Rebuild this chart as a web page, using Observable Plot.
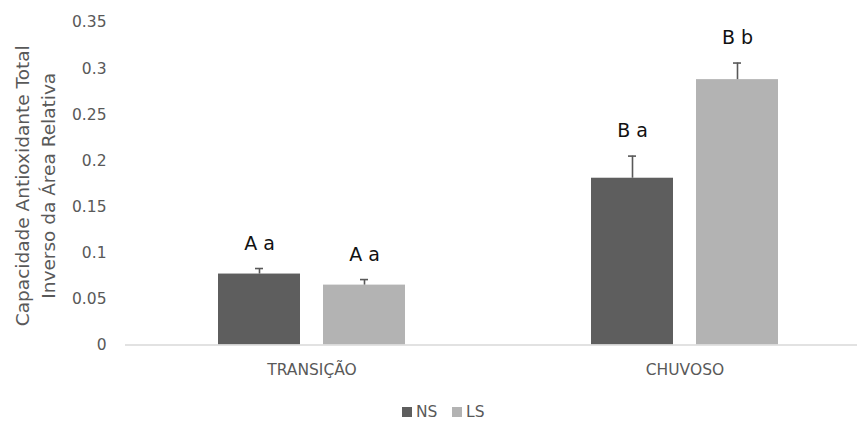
<!DOCTYPE html>
<html>
<head>
<meta charset="utf-8">
<script src="https://cdn.jsdelivr.net/npm/d3@7"></script>
<script src="https://cdn.jsdelivr.net/npm/@observablehq/plot@0.6"></script>
<style>
  html, body { margin: 0; padding: 0; background: #fff; }
  body { width: 857px; height: 424px; overflow: hidden; font-family: "DejaVu Sans", sans-serif; }
  #legend { position: relative; height: 24px; width: 857px; }
  .item { position: absolute; top: 0; display: flex; align-items: center; height: 24px; font-size: 15.5px; color: #595959; }
  .sw { width: 10px; height: 10px; margin-right: 4px; }
</style>
</head>
<body>
<div id="chart"></div>
<div id="legend"></div>
<script>
// ---- data ----
const groups = ["TRANSIÇÃO", "CHUVOSO"];
const series = ["NS", "LS"];
const nsMeans = [0.077, 0.181];
const lsMeans = [0.065, 0.288];
const nsErrors = [0.006, 0.024];
const lsErrors = [0.006, 0.018];
const nsLetters = ["A a", "B a"];
const lsLetters = ["A a", "B b"];
const yTicks = [0, 0.05, 0.1, 0.15, 0.2, 0.25, 0.3, 0.35];
const yTitle = "Capacidade Antioxidante Total\nInverso da Área Relativa";
const seriesColors = ["#5e5e5e", "#b3b3b3"];

const rows = groups.flatMap((g, i) => [
  {group: g, series: "NS", mean: nsMeans[i], err: nsErrors[i], letter: nsLetters[i]},
  {group: g, series: "LS", mean: lsMeans[i], err: lsErrors[i], letter: lsLetters[i]}
]);
const upper = d => d.mean + d.err;

const chart = Plot.plot({
  width: 857,
  height: 400,
  marginTop: 22,
  marginBottom: 55.5,
  marginLeft: 125,
  marginRight: 0,
  style: {fontFamily: '"DejaVu Sans", sans-serif', color: "#595959", background: "#fff"},
  fx: {domain: groups, range: [125, 871], padding: 0, label: null},
  x: {domain: series, paddingInner: 0.217, paddingOuter: 0.868, axis: null},
  y: {domain: [0, 0.35]},
  color: {domain: series, range: seriesColors},
  marks: [
    Plot.axisY({ticks: yTicks, tickSize: 0, tickPadding: 19, tickFormat: d3.format("~g"), fontSize: 15.5, label: null}),
    Plot.axisFx({anchor: "bottom", tickSize: 0, tickPadding: 19, fontSize: 15.5, label: null}),
    Plot.barY(rows, {fx: "group", x: "series", y: "mean", fill: "series"}),
    Plot.ruleY([0], {stroke: "#d9d9d9", strokeWidth: 1.5}),
    Plot.ruleX(rows, {fx: "group", x: "series", y1: "mean", y2: upper, stroke: "#595959", strokeWidth: 1.6}),
    Plot.tickY(rows, {fx: "group", x: "series", y: upper, stroke: "#595959", strokeWidth: 1.6, insetLeft: 37, insetRight: 37}),
    Plot.text(rows, {fx: "group", x: "series", y: upper, text: "letter", dy: -25, fontSize: 19, fill: "#111"}),
    Plot.text([yTitle], {frameAnchor: "left", facetAnchor: "left", textAnchor: "middle", lineAnchor: "middle", rotate: -90, dx: -92, dy: 2, lineHeight: 1.4, fontSize: 18.5, fill: "#595959"})
  ]
});
document.getElementById("chart").appendChild(chart);

// legend
const legend = document.getElementById("legend");
const legendX = [402, 452];
series.forEach((s, i) => {
  const it = document.createElement("div");
  it.className = "item";
  it.style.left = legendX[i] + "px";
  it.innerHTML = `<span class="sw" style="background:${seriesColors[i]}"></span><span>${s}</span>`;
  legend.appendChild(it);
});
</script>
</body>
</html>
